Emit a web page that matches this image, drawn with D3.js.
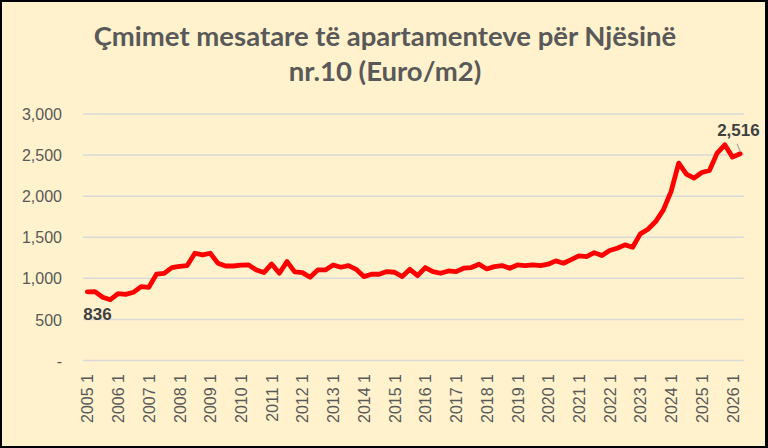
<!DOCTYPE html>
<html><head><meta charset="utf-8">
<script src="https://cdn.jsdelivr.net/npm/d3@7"></script>
<style>html,body{margin:0;padding:0;background:#000;}svg{display:block;}</style>
</head><body>
<svg id="c" width="768" height="448"></svg>
<script>
const titleLines = ["Çmimet mesatare të apartamenteve për Njësinë", "nr.10 (Euro/m2)"];
const startYear = 2005;
const quartersPerYear = 4;
const values = [836,838,770,740,815,805,830,900,890,1050,1060,1130,1145,1155,1305,1285,1305,1185,1150,1150,
1160,1163,1102,1070,1175,1062,1204,1078,1070,1013,1102,1102,1163,1135,1155,1110,1021,1050,1050,1082,
1074,1021,1110,1033,1131,1082,1062,1090,1082,1123,1131,1172,1114,1143,1155,1123,1163,1155,1163,1155,
1172,1212,1184,1228,1273,1265,1313,1277,1338,1366,1407,1378,1541,1598,1691,1833,2056,2402,2268,2219,
2288,2312,2524,2625,2475,2516];
const categories = values.map((v,i)=> `${startYear+Math.floor(i/quartersPerYear)} ${i%quartersPerYear+1}`);
const yTicks = [0,500,1000,1500,2000,2500,3000];

const svg = d3.select("#c");
svg.append("rect").attr("x",2).attr("y",2).attr("width",763).attr("height",444).attr("fill","#FFF2CC");

const x = d3.scalePoint().domain(categories).range([83.5,744]).padding(0.5);
const y = d3.scaleLinear().domain([0,3000]).range([360.5,114]);

// gridlines
svg.append("g").selectAll("line").data(yTicks).join("line")
  .attr("x1",83).attr("x2",744).attr("y1",d=>y(d)).attr("y2",d=>y(d))
  .attr("stroke","#D9D9D9").attr("stroke-width",1.5);

// y axis labels
const yAxis = d3.axisLeft(y).tickValues(yTicks).tickSize(0).tickPadding(0)
  .tickFormat(d=> d===0 ? "-" : d3.format(",")(d));
const gy = svg.append("g").attr("transform","translate(62,0)").call(yAxis);
gy.select(".domain").remove();
gy.selectAll("text").attr("font-family","Liberation Sans, Arial, sans-serif").attr("font-size",16).attr("fill","#595959").attr("dy","0.35em");

// x axis labels
const xAxis = d3.axisBottom(x).tickValues(categories.filter(c=>c.endsWith(" 1"))).tickSize(0).tickPadding(0);
const gx = svg.append("g").attr("transform","translate(0,374)").call(xAxis);
gx.select(".domain").remove();
gx.selectAll("text").attr("font-family","Liberation Sans, Arial, sans-serif").attr("font-size",16).attr("fill","#595959")
  .attr("transform","rotate(-90)").attr("text-anchor","end").attr("x",0).attr("y",0).attr("dy","0.35em");

// line
const line = d3.line().x((d,i)=>x(categories[i])).y(d=>y(d));
svg.append("path").datum(values).attr("d",line).attr("fill","none")
  .attr("stroke","#FF0000").attr("stroke-width",4.8).attr("stroke-linejoin","round").attr("stroke-linecap","round");

// data labels
const last = values.length-1;
svg.append("line").attr("x1",x(categories[last])-3).attr("y1",y(values[last])-10)
  .attr("x2",x(categories[last])).attr("y2",y(values[last])-2).attr("stroke","#A6A6A6").attr("stroke-width",1.2);
svg.append("text").attr("x",x(categories[0])-4).attr("y",y(values[0])+28)
  .attr("font-family","Liberation Sans, Arial, sans-serif").attr("font-weight","bold").attr("font-size",17).attr("fill","#404040")
  .text(d3.format(",")(values[0]));
svg.append("text").attr("x",x(categories[last])-23).attr("y",y(values[last])-18)
  .attr("font-family","Liberation Sans, Arial, sans-serif").attr("font-weight","bold").attr("font-size",17).attr("fill","#404040")
  .attr("text-anchor","start").text(d3.format(",")(values[last]));

// title
svg.append("g").selectAll("text").data(titleLines).join("text")
  .attr("x",385).attr("y",(d,i)=>46+i*35).attr("text-anchor","middle")
  .attr("font-family","Lato, sans-serif").attr("font-weight","bold").attr("font-size",27.5).attr("fill","#595959")
  .text(d=>d);
</script>
</body></html>
